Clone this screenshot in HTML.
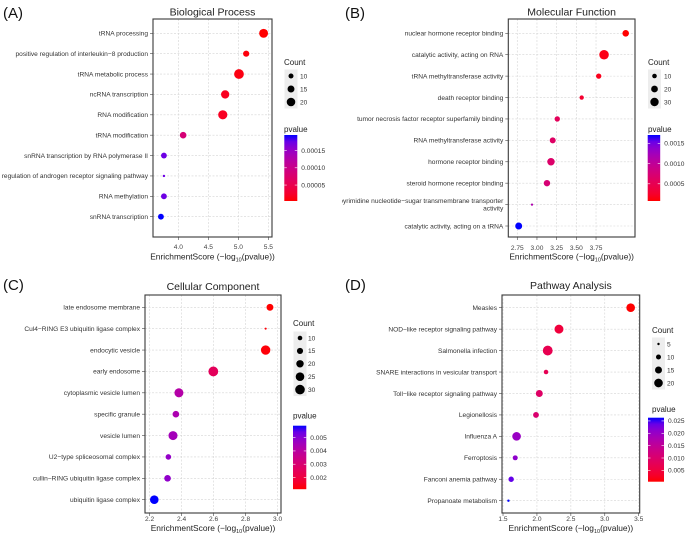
<!DOCTYPE html>
<html><head><meta charset="utf-8"><style>
html,body{margin:0;padding:0;background:#fff;}
svg{display:block;font-family:"Liberation Sans",Arial,sans-serif;}
</style></head><body>
<svg id="fig" width="685" height="538" viewBox="0 0 685 538" xmlns="http://www.w3.org/2000/svg">
<defs>
<clipPath id="clipA"><rect x="0" y="0" width="342" height="269"/></clipPath>
<clipPath id="clipB"><rect x="342" y="0" width="343" height="269"/></clipPath>
<clipPath id="clipC"><rect x="0" y="269" width="342" height="269"/></clipPath>
<clipPath id="clipD"><rect x="342" y="269" width="343" height="269"/></clipPath>
</defs>
</svg>
<script>
// ---- Panel A data ----
const aTerms = ["tRNA processing","positive regulation of interleukin\u22128 production","tRNA metabolic process","ncRNA transcription","RNA modification","tRNA modification","snRNA transcription by RNA polymerase II","regulation of androgen receptor signaling pathway","RNA methylation","snRNA transcription"];
const aScores = [5.42,5.13,5.01,4.78,4.74,4.08,3.76,3.76,3.76,3.71];
const aCounts = [21,13,24,19,22,14,12,5,12,12];
const aXTicks = [4.0,4.5,5.0,5.5];
const aXTickLabels = ["4.0","4.5","5.0","5.5"];
const aCountBreaks = [10,15,20];
const aPTicks = [0.00015,0.00010,0.00005];
const aPTickLabels = ["0.00015","0.00010","0.00005"];
// ---- Panel B data ----
const bTerms = ["nuclear hormone receptor binding","catalytic activity, acting on RNA","tRNA methyltransferase activity","death receptor binding","tumor necrosis factor receptor superfamily binding","RNA methyltransferase activity","hormone receptor binding","steroid hormone receptor binding","pyrimidine nucleotide\u2212sugar transmembrane transporter|activity","catalytic activity, acting on a tRNA"];
const bScores = [4.127,3.852,3.784,3.568,3.258,3.20,3.178,3.127,2.937,2.768];
const bCounts = [19,38,13,9,13,16,24,18,3,21];
const bXTicks = [2.75,3.00,3.25,3.50,3.75];
const bXTickLabels = ["2.75","3.00","3.25","3.50","3.75"];
const bCountBreaks = [10,20,30];
const bPTicks = [0.0015,0.0010,0.0005];
const bPTickLabels = ["0.0015","0.0010","0.0005"];
// ---- Panel C data ----
const cTerms = ["late endosome membrane","Cul4\u2212RING E3 ubiquitin ligase complex","endocytic vesicle","early endosome","cytoplasmic vesicle lumen","specific granule","vesicle lumen","U2\u2212type spliceosomal complex","cullin\u2212RING ubiquitin ligase complex","ubiquitin ligase complex"];
const cScores = [2.952,2.925,2.925,2.598,2.383,2.364,2.346,2.317,2.312,2.229];
const cCounts = [18,4,29,31,27,17,27,13,17,25];
const cXTicks = [2.2,2.4,2.6,2.8,3.0];
const cXTickLabels = ["2.2","2.4","2.6","2.8","3.0"];
const cCountBreaks = [10,15,20,25,30];
const cPTicks = [0.005,0.004,0.003,0.002];
const cPTickLabels = ["0.005","0.004","0.003","0.002"];
// ---- Panel D data ----
const dTerms = ["Measles","NOD\u2212like receptor signaling pathway","Salmonella infection","SNARE interactions in vesicular transport","Toll\u2212like receptor signaling pathway","Legionellosis","Influenza A","Ferroptosis","Fanconi anemia pathway","Propanoate metabolism"];
const dScores = [3.382,2.325,2.159,2.134,2.035,1.986,1.70,1.68,1.62,1.58];
const dCounts = [20,21,24,9,15,12,20,10,11,5];
const dXTicks = [1.5,2.0,2.5,3.0,3.5];
const dXTickLabels = ["1.5","2.0","2.5","3.0","3.5"];
const dCountBreaks = [5,10,15,20];
const dPTicks = [0.025,0.020,0.015,0.010,0.005];
const dPTickLabels = ["0.025","0.020","0.015","0.010","0.005"];

const NS = "http://www.w3.org/2000/svg";
const svg = document.getElementById("fig");
function mk(tag, attrs, parent){const e=document.createElementNS(NS,tag);for(const k in attrs)e.setAttribute(k,attrs[k]);(parent||svg).appendChild(e);return e;}

function toLin(c){c/=255;return c<=0.04045?c/12.92:Math.pow((c+0.055)/1.055,2.4);}
function fromLin(c){c=c<=0.0031308?12.92*c:1.055*Math.pow(c,1/2.4)-0.055;return Math.max(0,Math.min(255,Math.round(c*255)));}
function rgb2lab(r,g,b){r=toLin(r);g=toLin(g);b=toLin(b);
let X=(0.4124*r+0.3576*g+0.1805*b)/0.95047,Y=0.2126*r+0.7152*g+0.0722*b,Z=(0.0193*r+0.1192*g+0.9505*b)/1.08883;
const f=t=>t>0.008856?Math.cbrt(t):7.787*t+16/116;X=f(X);Y=f(Y);Z=f(Z);return [116*Y-16,500*(X-Y),200*(Y-Z)];}
function lab2rgb(L,a,bb){let Y=(L+16)/116,X=a/500+Y,Z=Y-bb/200;
const fi=t=>t*t*t>0.008856?t*t*t:(t-16/116)/7.787;X=fi(X)*0.95047;Y=fi(Y);Z=fi(Z)*1.08883;
const r=3.2406*X-1.5372*Y-0.4986*Z,g=-0.9689*X+1.8758*Y+0.0415*Z,b=0.0557*X-0.2040*Y+1.0570*Z;
return "rgb("+fromLin(r)+","+fromLin(g)+","+fromLin(b)+")";}
const LR=rgb2lab(255,0,0), LB=rgb2lab(0,0,255);
function colAt(t){t=Math.max(0,Math.min(1,t));return lab2rgb(LR[0]+(LB[0]-LR[0])*t,LR[1]+(LB[1]-LR[1])*t,LR[2]+(LB[2]-LR[2])*t);}

let gradId=0;
function panel(cfg){
  const g=mk("g",{"clip-path":"url(#"+cfg.clip+")"});
  
  
  const [x0,y0,x1,y1]=cfg.box;
  const sx=v=>x0+(v-cfg.dom[0])/(cfg.dom[1]-cfg.dom[0])*(x1-x0);
  const n=cfg.terms.length;
  const sy=i=>cfg.rows[0]+i*(cfg.rows[1]-cfg.rows[0])/(n-1);
  const ps=cfg.scores.map(s=>Math.pow(10,-s));
  const pmin=Math.min(...ps), pmax=Math.max(...ps);
  const colOf=p=>colAt((p-pmin)/(pmax-pmin));
  const rOf=c=>Math.max(0.8,cfg.ra+cfg.rb*Math.sqrt(c));
  const L=mk("text",{x:cfg.letter[0],y:cfg.letter[1],"font-size":15,fill:"#111"},g);L.textContent=cfg.letterText;
  
  const T=mk("text",{x:(x0+x1)/2,y:cfg.titleY,"font-size":10.5,fill:"#222","text-anchor":"middle"},g);T.textContent=cfg.title;
  
  const bg=mk("rect",{x:x0,y:y0,width:x1-x0,height:y1-y0,fill:"#fff"},g);
  
  cfg.xt.forEach((v,i)=>{const x=sx(v);
    const gl=mk("line",{x1:x,x2:x,y1:y0,y2:y1,stroke:"#d4d4d4","stroke-width":0.6,"stroke-dasharray":"2,1.5"},g);
    
    mk("line",{x1:x,x2:x,y1:y1,y2:y1+3,stroke:"#444","stroke-width":0.6},g);
    const t=mk("text",{x:x,y:cfg.tickY,"font-size":6.6,fill:"#444","text-anchor":"middle"},g);t.textContent=cfg.xtl[i];
    
  });
  cfg.terms.forEach((term,i)=>{const y=sy(i);
    const gl=mk("line",{x1:x0,x2:x1,y1:y,y2:y,stroke:"#d4d4d4","stroke-width":0.6,"stroke-dasharray":"2,1.5"},g);
    
    mk("line",{x1:x0-3,x2:x0,y1:y,y2:y,stroke:"#444","stroke-width":0.6},g);
    const parts=term.split("|");
    const t=mk("text",{x:x0-5,y:y+2.3-(parts.length-1)*3.8,"font-size":6.6,fill:"#333","text-anchor":"end"},g);
    parts.forEach((p,k)=>{const ts=mk("tspan",{x:x0-5,dy:k?7.6:0},t);ts.textContent=p;});
    
  });
  const fr=mk("rect",{x:x0,y:y0,width:x1-x0,height:y1-y0,fill:"none",stroke:"#3a3a3a","stroke-width":1.1},g);
  
  cfg.terms.forEach((term,i)=>{
    const c=mk("circle",{cx:sx(cfg.scores[i]),cy:sy(i),r:rOf(cfg.counts[i]),fill:colOf(ps[i])},g);
    
    
  });
  const xt=mk("text",{x:(x0+x1)/2,y:cfg.axTitleY,"font-size":8.4,fill:"#222","text-anchor":"middle"},g);
  
  let s1=mk("tspan",{},xt);s1.textContent="EnrichmentScore (\u2212log";
  let s2=mk("tspan",{"font-size":5.5,dy:2},xt);s2.textContent="10";
  let s3=mk("tspan",{dy:-2},xt);s3.textContent="(pvalue))";
  const lg=cfg.lg;
  const ct=mk("text",{x:lg.x,y:lg.countY,"font-size":8,fill:"#222"},g);ct.textContent="Count";
  
  const nb=cfg.cb.length;
  const kb=mk("rect",{x:lg.dotX-6.5,y:lg.dotY0-6.5,width:13,height:(nb-1)*lg.dotStep+13,fill:"#ededed"},g);
  
  cfg.cb.forEach((c,i)=>{const y=lg.dotY0+i*lg.dotStep;
    const d=mk("circle",{cx:lg.dotX,cy:y,r:rOf(c),fill:"#000"},g);
    
    const t=mk("text",{x:lg.lblX,y:y+2.3,"font-size":6.6,fill:"#333"},g);t.textContent=c;
    
  });
  const pt=mk("text",{x:lg.x,y:lg.pY,"font-size":8,fill:"#222"},g);pt.textContent="pvalue";
  
  const id="grad"+(gradId++);
  const defs=mk("defs",{},g);
  const lgd=mk("linearGradient",{id:id,x1:0,y1:1,x2:0,y2:0},defs);
  for(let k=0;k<=10;k++){mk("stop",{offset:k/10,"stop-color":colAt(k/10)},lgd);}
  const [bx,by,bw,bh]=lg.bar;
  const br=mk("rect",{x:bx,y:by,width:bw,height:bh,fill:"url(#"+id+")"},g);
  
  cfg.pt.forEach((p,i)=>{const y=by+bh-(p-pmin)/(pmax-pmin)*bh;
    mk("line",{x1:bx,x2:bx+2.5,y1:y,y2:y,stroke:"#fff","stroke-width":0.6},g);
    mk("line",{x1:bx+bw-2.5,x2:bx+bw,y1:y,y2:y,stroke:"#fff","stroke-width":0.6},g);
    const t=mk("text",{x:bx+bw+4,y:y+2.3,"font-size":6.6,fill:"#333"},g);t.textContent=cfg.ptl[i];
    
  });
}

panel({key:"a",name:"panel-a-biological-process",clip:"clipA",letterText:"(A)",letter:[3,18],title:"Biological Process",titleY:15.5,
  box:[153,19,272,237],rows:[33.3,216.7],dom:[3.578,5.56],tickY:249,axTitleY:259.5,
  terms:aTerms,scores:aScores,counts:aCounts,xt:aXTicks,xtl:aXTickLabels,cb:aCountBreaks,pt:aPTicks,ptl:aPTickLabels,
  ra:-1.83,rb:1.37,
  lg:{x:284,countY:65,dotX:291,dotY0:76,dotStep:13,lblX:300,pY:132,bar:[284.3,135,13,66]}});
panel({key:"b",name:"panel-b-molecular-function",clip:"clipB",letterText:"(B)",letter:[345,18],title:"Molecular Function",titleY:15.5,
  box:[508.3,19,635,237],rows:[33.3,226],dom:[2.636,4.245],tickY:250,axTitleY:259.5,
  terms:bTerms,scores:bScores,counts:bCounts,xt:bXTicks,xtl:bXTickLabels,cb:bCountBreaks,pt:bPTicks,ptl:bPTickLabels,
  ra:-0.29,rb:0.82,
  lg:{x:648,countY:65,dotX:654.5,dotY0:76,dotStep:13,lblX:664,pY:132,bar:[647.7,135,12.5,66]}});
panel({key:"c",name:"panel-c-cellular-component",clip:"clipC",letterText:"(C)",letter:[3,290],title:"Cellular Component",titleY:290,
  box:[145,295,281,513],rows:[307.3,499.7],dom:[2.171,3.021],tickY:521,axTitleY:531,
  terms:cTerms,scores:cScores,counts:cCounts,xt:cXTicks,xtl:cXTickLabels,cb:cCountBreaks,pt:cPTicks,ptl:cPTickLabels,
  ra:-1.11,rb:1.08,
  lg:{x:293,countY:326,dotX:300,dotY0:338,dotStep:12.9,lblX:308,pY:418.5,bar:[293,425.7,13.3,63.5]}});
panel({key:"d",name:"panel-d-pathway-analysis",clip:"clipD",letterText:"(D)",letter:[345,290],title:"Pathway Analysis",titleY:289,
  box:[502,295,639.7,513],rows:[307.7,500.7],dom:[1.485,3.515],tickY:521,axTitleY:531,
  terms:dTerms,scores:dScores,counts:dCounts,xt:dXTicks,xtl:dXTickLabels,cb:dCountBreaks,pt:dPTicks,ptl:dPTickLabels,
  ra:-1.9,rb:1.39,
  lg:{x:652,countY:333,dotX:658.5,dotY0:344,dotStep:13,lblX:667,pY:412,bar:[648,417.7,16,64]}});
</script>
</body></html>
